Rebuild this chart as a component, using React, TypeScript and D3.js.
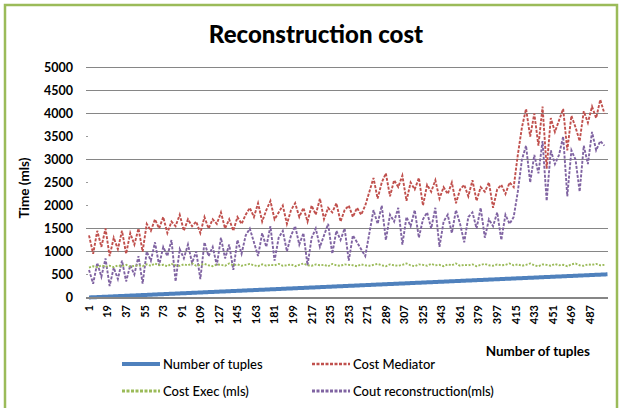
import * as d3 from 'd3';

// chart values (one sample every 4 tuples)
const sampleTuples = d3.range(1, 502, 4);

const costMediator = [
  1350, 950, 1450, 1100, 1500, 900, 1300, 1050, 1450, 950, 1400, 1150, 1500, 1000,
  1600, 1450, 1700, 1500, 1750, 1400, 1650, 1550, 1800, 1450, 1700, 1550, 1650, 1400, 1750, 1500, 1700, 1600, 1850, 1500, 1700, 1450, 1750, 1600, 1800, 1950,
  1750, 2050, 1650, 1900, 2100, 1700, 1850, 2000, 1600, 1900, 2050, 1750, 1950, 1650, 2000, 1800, 2150, 1700, 1950, 1850, 2050, 1650, 1900, 2000, 1750, 1950, 1800, 2000,
  2300, 2600, 2150, 2500, 2700, 2200, 2550, 2400, 2650, 2100, 2500, 2350, 2600, 2000, 2450, 2300, 2550, 2150, 2400, 2250, 2500, 2050, 2350, 2450, 2200, 2550, 2100, 2400, 2300, 2500, 1950, 2350, 2450, 2250, 2500, 2400,
  3100, 3700, 4100, 3500, 4000, 3300, 4150, 2800, 3900, 3600, 3850, 4100, 3200, 3950, 3700, 3400, 4050, 3800, 4150, 3900, 4300, 4000,
];

const coutReconstruction = [
  600, 300, 750, 450, 850, 250, 650, 400, 800, 350, 700, 500, 900, 300,
  1000, 800, 1200, 700, 1100, 900, 1250, 350, 1050, 850, 1150, 750, 1000, 400, 1200, 900, 1100, 700, 1300, 850, 1150, 600, 1250, 950, 1350, 1500,
  1200, 900, 1400, 1100, 1550, 800, 1300, 1450, 1000, 1350, 1550, 1150, 1400, 700, 1300, 1500, 1100, 1350, 1600, 950, 1450, 1250, 1500, 800, 1350, 1200, 1050, 900,
  1400, 1900, 1600, 2000, 1250, 1800, 1650, 1950, 1150, 1750, 1550, 1900, 1300, 1700, 1850, 1500, 1950, 1100, 1650, 1800, 1400, 1900, 1600, 1200, 1750, 1850, 1500, 1950, 1300, 1700, 1550, 1850, 1250, 1800, 1600, 1750,
  2300, 3000, 3300, 2500, 3100, 2700, 3400, 2100, 3200, 2900, 3100, 3500, 2200, 3200, 3000, 2300, 3300, 2900, 3600, 3200, 3400, 3300,
];

const costExec = [
  650, 680, 660, 700, 670, 690, 660, 700, 680, 710, 670, 690, 700, 680,
  720, 690, 740, 700, 710, 680, 730, 700, 690, 720, 700, 740, 690, 710, 730, 700, 680, 720, 710, 690, 740, 700, 720, 690, 710, 730,
  700, 680, 720, 690, 710, 700, 730, 690, 700, 720, 680, 710, 740, 700, 690, 720, 700, 710, 680, 730, 700, 690, 720, 710, 700, 680, 720, 700,
  690, 710, 730, 700, 680, 720, 700, 690, 710, 740, 700, 680, 720, 710, 690, 730, 700, 710, 680, 720, 700, 740, 690, 710, 700, 720, 680, 710, 730, 700, 690, 720, 700, 710, 740, 700,
  720, 690, 710, 740, 700, 680, 720, 710, 690, 730, 700, 710, 680, 720, 740, 700, 690, 720, 710, 730, 700, 710,
];

const xTickLabels = [1, 19, 37, 55, 73, 91, 109, 127, 145, 163, 181, 199, 217, 235, 253, 271, 289, 307, 325, 343, 361, 379, 397, 415, 433, 451, 469, 487];
const yTicks = [0, 500, 1000, 1500, 2000, 2500, 3000, 3500, 4000, 4500, 5000];
// these gridlines barely show in the scan
const faintGrid = [500, 2000, 2500, 3500];

const FONT = 'Lato, "Liberation Sans", sans-serif';
const BLUE = '#4f81bd';
const RED = '#c0504d';
const GREEN = '#9bbb59';
const PURPLE = '#8064a2';

const categories = d3.range(1, 505);

export default function App() {
  const left = 86;
  const right = 608;

  const x = d3.scalePoint<number>().domain(categories).range([88.5, right]).padding(0.5);
  const y = d3.scaleLinear().domain([0, 5000]).range([297.5, 67.5]);

  const line = d3
    .line<number>()
    .x((d, i) => x(sampleTuples[i]) as number)
    .y((d) => y(d));

  const tuplesLine = d3
    .line<number>()
    .x((d) => x(d) as number)
    .y((d) => y(d));

  const legend = [
    { name: 'Number of tuples', color: BLUE, dash: undefined, width: 4, lx: 122, ly: 364 },
    { name: 'Cost Mediator', color: RED, dash: '3,1.5', width: 2.5, lx: 312, ly: 364 },
    { name: 'Cost Exec (mls)', color: GREEN, dash: '3,1.5', width: 3, lx: 122, ly: 391 },
    { name: 'Cout reconstruction(mls)', color: PURPLE, dash: '3,1.5', width: 3, lx: 312, ly: 391 },
  ];

  return (
    <svg width={620} height={408} style={{ position: 'absolute', left: 0, top: 0, background: '#fff' }}>
      <rect x={5} y={5} width={612} height={420} fill="#fff" stroke={GREEN} strokeWidth={2.5} />

      <text x={316} y={43} textAnchor="middle" fontFamily={FONT} fontWeight={900} fontSize={24} fill="#000">
        Reconstruction cost
      </text>

      {/* gridlines */}
      {yTicks.filter((t) => t > 0).map((t) =>
        faintGrid.includes(t) ? (
          <line key={t} x1={left} x2={left + 2} y1={y(t)} y2={y(t)} stroke="#999" strokeWidth={1} />
        ) : (
          <line key={t} x1={left} x2={right} y1={y(t)} y2={y(t)} stroke="#868686" strokeWidth={1.2} />
        )
      )}

      {yTicks.map((t) => (
        <text key={t} x={73} y={y(t)} dy="0.35em" textAnchor="end" fontFamily={FONT} fontWeight={700} fontSize={12.5} fill="#000">
          {t}
        </text>
      ))}

      <text transform="translate(29,188) rotate(-90)" textAnchor="middle" fontFamily={FONT} fontWeight={700} fontSize={13.5} fill="#000">
        Time (mls)
      </text>

      {/* series */}
      <path d={line(costMediator) ?? ''} fill="none" stroke={RED} strokeWidth={1.9} strokeDasharray="3,1.5" />
      <path d={line(coutReconstruction) ?? ''} fill="none" stroke={PURPLE} strokeWidth={1.9} strokeDasharray="3,1.5" />
      <path d={line(costExec) ?? ''} fill="none" stroke={GREEN} strokeWidth={1.9} strokeDasharray="2,1.5" />
      <path d={tuplesLine(categories) ?? ''} fill="none" stroke={BLUE} strokeWidth={4} />

      {/* x axis */}
      <line x1={left} x2={right} y1={298} y2={298} stroke="#868686" strokeWidth={2} />
      {xTickLabels.map((t) => (
        <text
          key={t}
          transform={`translate(${x(t)},305) rotate(-90)`}
          textAnchor="end"
          dy="0.35em"
          fontFamily={FONT}
          fontWeight={700}
          fontSize={11}
          fill="#000"
        >
          {t}
        </text>
      ))}

      <text x={590} y={356} textAnchor="end" fontFamily={FONT} fontWeight={700} fontSize={13.5} fill="#000">
        Number of tuples
      </text>

      {/* legend */}
      {legend.map((l) => (
        <g key={l.name}>
          <line x1={l.lx} x2={l.lx + 38} y1={l.ly} y2={l.ly} stroke={l.color} strokeWidth={l.width} strokeDasharray={l.dash} />
          <text x={l.lx + 41} y={l.ly} dy="0.35em" fontFamily={FONT} fontWeight={500} fontSize={13} fill="#000">
            {l.name}
          </text>
        </g>
      ))}
    </svg>
  );
}
